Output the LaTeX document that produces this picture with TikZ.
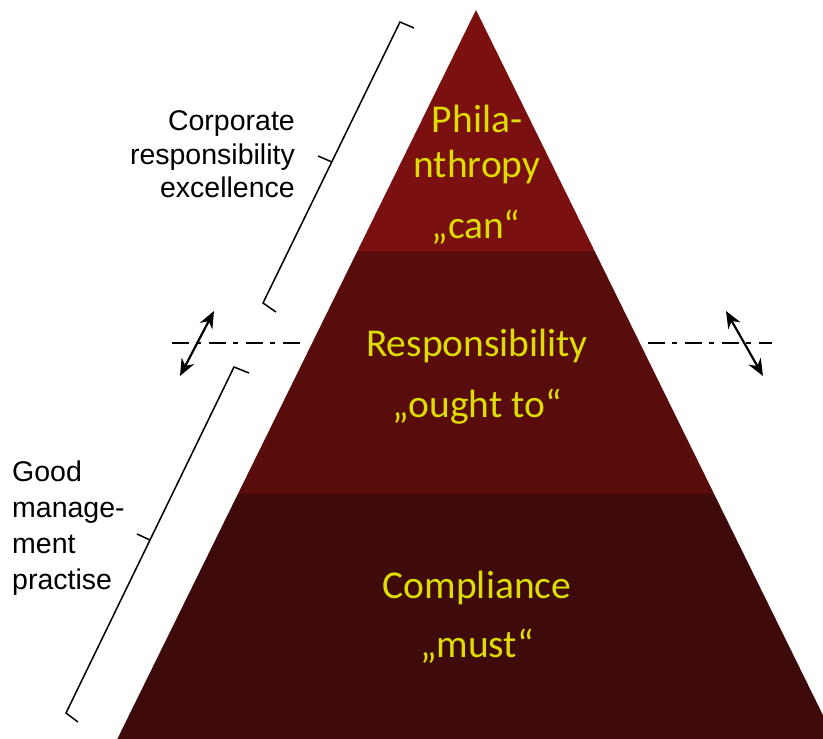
\documentclass[tikz,border=0pt]{standalone}
\usepackage{fontspec}
\usetikzlibrary{arrows.meta}
\newfontfamily\calib{Carlito}
\newfontfamily\arialf{Liberation Sans}
\definecolor{tierA}{RGB}{122,16,16}
\definecolor{tierB}{RGB}{88,12,12}
\definecolor{tierC}{RGB}{62,10,10}
\definecolor{ylw}{RGB}{221,221,0}
\tikzset{
  tiertext/.style={text=ylw, font=\calib\fontsize{39.5}{47}\selectfont, anchor=base, inner sep=0pt},
  lbl/.style={text=black, font=\arialf\fontsize{28.5}{33}\selectfont, inner sep=0pt},
  dashdot/.style={line width=2.5pt, dash pattern=on 17pt off 7pt on 5pt off 8pt},
  dbl/.style={line width=2.2pt, {Stealth[length=17pt,width=14pt]}-{Stealth[length=17pt,width=14pt]}},
  bracket/.style={line width=1.5pt, line join=miter}
}
\begin{document}
\begin{tikzpicture}[x=1pt,y=-1pt]
\useasboundingbox (0,0) rectangle (823,739);
\begin{scope}
\clip (0,0) rectangle (823,739);
% pyramid tiers
\fill[tierC] (237.9,494) -- (117.3,739) -- (834.7,739) -- (714.1,494) -- cycle;
\fill[tierB] (357.4,251) -- (237.9,494) -- (714.1,494) -- (594.6,251) -- cycle;
\fill[tierA] (476,10) -- (357.4,251) -- (594.6,251) -- cycle;
\end{scope}
% tier texts
\node[tiertext] (p1) at (477,132) {Phila-};
\node[tiertext] (p2) at (477,177) {nthropy};
\node[tiertext] (p3) at (476,238) {„can“};
\node[tiertext] (r1) at (477,356) {Responsibility};
\node[tiertext] (r2) at (477,417) {„ought to“};
\node[tiertext] (c1) at (477,598) {Compliance};
\node[tiertext] (c2) at (477,657) {„must“};
% left labels
\node[lbl, anchor=base east] (u1) at (295,130) {Corporate};
\node[lbl, anchor=base east] (u2) at (295,164) {responsibility};
\node[lbl, anchor=base east] (u3) at (295,197) {excellence};
\node[lbl, anchor=base west] (g1) at (12,481) {Good};
\node[lbl, anchor=base west] (g2) at (12,517) {manage-};
\node[lbl, anchor=base west] (g3) at (12,553) {ment};
\node[lbl, anchor=base west] (g4) at (12,589) {practise};
% dash-dot lines
\coordinate (dl1) at (172,343); \coordinate (dl2) at (302,343);
\coordinate (dr1) at (648,343); \coordinate (dr2) at (772,343);
\draw[dashdot] (dl1) -- (dl2);
\draw[dashdot] (dr1) -- (dr2);
% double arrows
\coordinate (al1) at (180,376); \coordinate (al2) at (214,311);
\coordinate (ar1) at (726,311); \coordinate (ar2) at (763,376);
\draw[dbl] (al1) -- (al2);
\draw[dbl] (ar1) -- (ar2);
% upper bracket
\coordinate (ua) at (414,28); \coordinate (ub) at (400,22);
\coordinate (um) at (332,162); \coordinate (ut) at (318,156);
\coordinate (uc) at (263,303); \coordinate (ud) at (276,312);
\draw[bracket] (ua) -- (ub) -- (uc) -- (ud);
\draw[bracket] (um) -- (ut);
% lower bracket
\coordinate (la) at (249,373); \coordinate (lb) at (234,367);
\coordinate (lm) at (150,540); \coordinate (lt) at (137,534);
\coordinate (lc) at (66,713); \coordinate (ld) at (78,722);
\draw[bracket] (la) -- (lb) -- (lc) -- (ld);
\draw[bracket] (lm) -- (lt);
\end{tikzpicture}
\end{document}
